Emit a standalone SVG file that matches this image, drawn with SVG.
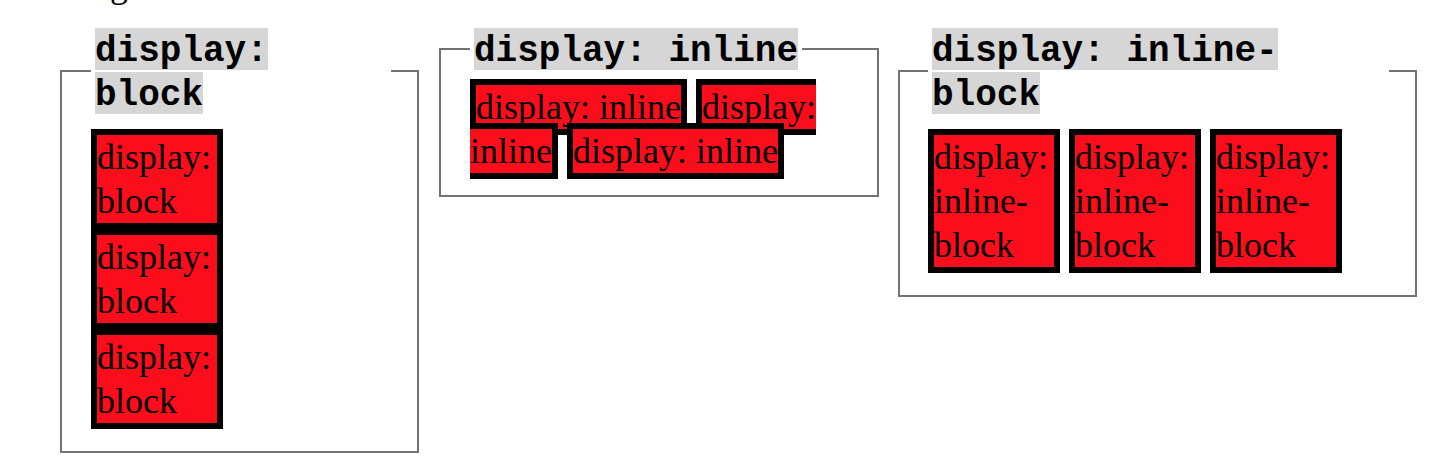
<svg xmlns="http://www.w3.org/2000/svg" width="1442" height="468" viewBox="0 0 1442 468">
<style>
.fs{fill:none;stroke:#737373;stroke-width:2}
.lg{fill:#d6d6d6}
.lt{font-family:"Liberation Mono","Courier New",monospace;font-weight:bold;font-size:36px;fill:#000}
.bk{fill:#000}
.rd{fill:#fc0d1c}
.tx{font-family:"Liberation Serif","Times New Roman",serif;font-size:36px;fill:#000}
</style>
<rect width="1442" height="468" fill="#fff"/>
<text class="tx" x="110" y="-3">g</text>

<g id="fieldset-block">
<path class="fs" d="M91,71 H61 V452 H418 V71 H391"/>
<rect class="lg" x="95" y="28" width="173" height="42"/>
<rect class="lg" x="95" y="72" width="108" height="42"/>
<text class="lt" x="95" y="61">display:</text>
<text class="lt" x="95" y="105">block</text>
<g id="block-1">
<rect class="bk" x="91" y="129" width="132" height="100"/>
<rect class="rd" x="97" y="135" width="120" height="88"/>
<text class="tx" x="97" y="169">display:</text>
<text class="tx" x="97" y="213">block</text>
</g>
<g id="block-2">
<rect class="bk" x="91" y="229" width="132" height="100"/>
<rect class="rd" x="97" y="235" width="120" height="88"/>
<text class="tx" x="97" y="269">display:</text>
<text class="tx" x="97" y="313">block</text>
</g>
<g id="block-3">
<rect class="bk" x="91" y="329" width="132" height="100"/>
<rect class="rd" x="97" y="335" width="120" height="88"/>
<text class="tx" x="97" y="369">display:</text>
<text class="tx" x="97" y="413">block</text>
</g>
</g>

<g id="fieldset-inline">
<path class="fs" d="M470,49 H440 V196 H878 V49 H802"/>
<rect class="lg" x="474" y="28" width="324" height="42"/>
<text class="lt" x="474" y="61">display: inline</text>
<g id="inline-1">
<rect class="bk" x="470" y="79" width="217" height="56"/>
<rect class="rd" x="476" y="85" width="205" height="44"/>
<text class="tx" x="476" y="119">display: inline</text>
</g>
<g id="inline-2a">
<rect class="bk" x="696" y="79" width="120" height="56"/>
<rect class="rd" x="702" y="85" width="114" height="44"/>
<text class="tx" x="702" y="119">display:</text>
</g>
<g id="inline-2b">
<rect class="bk" x="470" y="123" width="88" height="56"/>
<rect class="rd" x="470" y="129" width="82" height="44"/>
<text class="tx" x="470" y="163">inline</text>
</g>
<g id="inline-3">
<rect class="bk" x="567" y="123" width="217" height="56"/>
<rect class="rd" x="573" y="129" width="205" height="44"/>
<text class="tx" x="573" y="163">display: inline</text>
</g>
</g>

<g id="fieldset-inline-block">
<path class="fs" d="M928,71 H899 V296 H1416 V71 H1389"/>
<rect class="lg" x="932" y="28" width="346" height="42"/>
<rect class="lg" x="932" y="72" width="108" height="42"/>
<text class="lt" x="932" y="61">display: inline-</text>
<text class="lt" x="932" y="105">block</text>
<g id="inline-block-1">
<rect class="bk" x="928" y="129" width="132" height="144"/>
<rect class="rd" x="934" y="135" width="120" height="132"/>
<text class="tx" x="934" y="169">display:</text>
<text class="tx" x="934" y="213">inline-</text>
<text class="tx" x="934" y="257">block</text>
</g>
<g id="inline-block-2">
<rect class="bk" x="1069" y="129" width="132" height="144"/>
<rect class="rd" x="1075" y="135" width="120" height="132"/>
<text class="tx" x="1075" y="169">display:</text>
<text class="tx" x="1075" y="213">inline-</text>
<text class="tx" x="1075" y="257">block</text>
</g>
<g id="inline-block-3">
<rect class="bk" x="1210" y="129" width="132" height="144"/>
<rect class="rd" x="1216" y="135" width="120" height="132"/>
<text class="tx" x="1216" y="169">display:</text>
<text class="tx" x="1216" y="213">inline-</text>
<text class="tx" x="1216" y="257">block</text>
</g>
</g>
<g id="connectors"/>
</svg>
